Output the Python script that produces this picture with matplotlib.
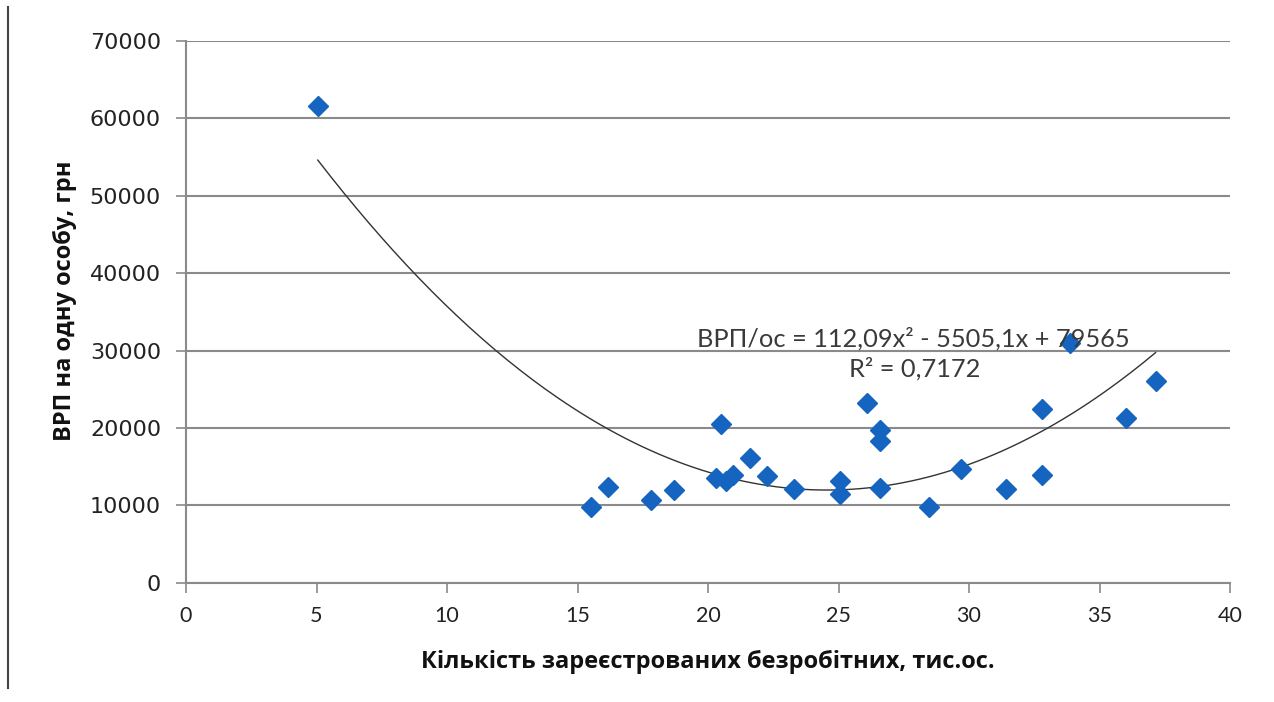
import numpy as np
import matplotlib
matplotlib.use('Agg')
import matplotlib.pyplot as plt
from matplotlib.lines import Line2D

# unemployed (thousand people) vs GRP per person (UAH)
unemployed = [5.05, 15.5, 16.15, 17.8, 18.7, 20.3, 20.5, 20.7, 20.95, 21.6,
              22.25, 23.3, 25.05, 25.05, 26.1, 26.6, 26.6, 26.6, 28.45,
              29.7, 31.4, 32.8, 32.8, 33.85, 36.0, 37.15]
grp = [61600, 9750, 12350, 10650, 12000, 13550, 20550, 13150, 13950, 16100,
       13750, 12050, 13200, 11400, 23200, 19750, 18350, 12250, 9800,
       14650, 12050, 22450, 13950, 31000, 21300, 26050]

# trend coefficients as printed on the chart
coef = [112.09, -5505.1, 79565]
eq_text = 'ВРП/ос = 112,09x² - 5505,1x + 79565'
r2_text = 'R² = 0,7172'

fig = plt.figure(figsize=(12.74, 7.02), dpi=100)
ax = fig.add_axes([0.146, 0.17, 0.8195, 0.7714])

ax.set_xlim(0, 40)
ax.set_ylim(0, 70000)
ax.set_xticks(range(0, 41, 5))
ax.set_yticks(range(0, 70001, 10000))

ax.grid(axis='y', color='#8a8a8a', lw=1.5)
ax.set_axisbelow(True)
for s in ['top', 'right']:
    ax.spines[s].set_visible(False)
for s in ['left', 'bottom']:
    ax.spines[s].set_color('#8a8a8a')
    ax.spines[s].set_linewidth(1.5)
ax.tick_params(direction='out', length=7, width=1.2, color='#8a8a8a',
               labelcolor='#222222')
ax.tick_params(axis='y', labelsize=16, pad=11)
ax.tick_params(axis='x', labelsize=15.5, pad=10)
for lb in ax.get_xticklabels():
    lb.set_family('Lato')

xs = np.linspace(min(unemployed), max(unemployed), 200)
ax.plot(xs, np.polyval(coef, xs), color='#333333', lw=1.0, zorder=2)

ax.plot(unemployed, grp, 'D', color='#1565C0', ms=10, mec='#1565C0', zorder=3)

ax.text(27.85, 31500, eq_text, ha='center', va='center', fontsize=18.3,
        family='Lato', color='#3a3a3a', zorder=4)
ax.text(27.9, 27600, r2_text, ha='center', va='center', fontsize=18.3,
        family='Lato', color='#3a3a3a', zorder=4)

ax.set_xlabel('Кількість зареєстрованих безробітних, тис.ос.', fontsize=17,
              family='Open Sans', fontweight='bold', color='#111111')
ax.xaxis.set_label_coords(0.5, -0.125)
ax.set_ylabel('ВРП на одну особу, грн', fontsize=17,
              family='Open Sans', fontweight='bold', color='#111111')
ax.yaxis.set_label_coords(-0.104, 0.52)

# scan edge line on the left
fig.add_artist(Line2D([0.0065, 0.0065], [0.02, 0.99], color='#444444', lw=1.5))

fig.savefig('out.png', dpi=100)
